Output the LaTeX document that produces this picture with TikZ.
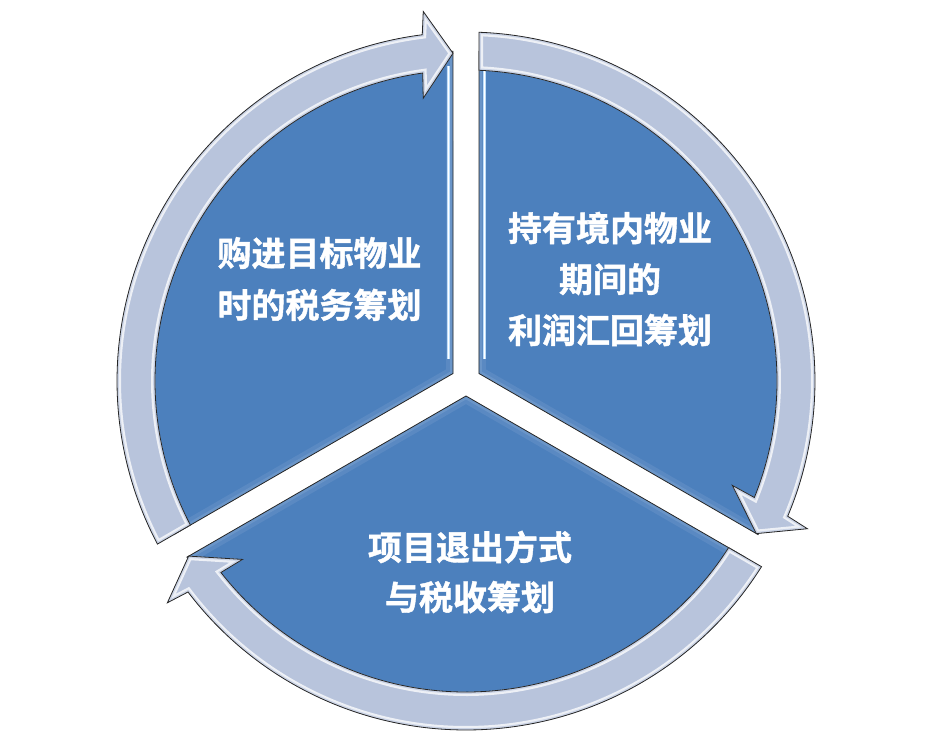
\documentclass[tikz,border=0pt]{standalone}
\usepackage{fontspec}
\newfontfamily\cjk[FakeBold=1.2]{Noto Sans CJK SC Bold}
\definecolor{secblue}{RGB}{76,128,189}
\definecolor{bandgray}{RGB}{184,196,220}
\definecolor{glowblue}{RGB}{190,222,250}
\tikzset{
  outline/.style={draw=black!85, line width=0.8pt, line join=miter},
  lbl/.style={text=white, align=center, inner sep=0pt},
}
\begin{document}
\begin{tikzpicture}[x=1pt,y=1pt]
\useasboundingbox (-466,-371) rectangle (483,381);
\fill[white] (-466,-371) rectangle (483,381);
% blue sectors
\foreach \e in {90,-30,210}{
  \pgfmathsetmacro\s{\e+120}
  \pgfmathsetmacro\m{\e+60}
  \def\secpath{(\m:15) -- (\s-2.26:330) arc[start angle=\s-2.26, end angle=\e+2.26, radius=330] -- cycle}
  \fill[secblue] \secpath;
  \begin{scope}
    \clip \secpath;
    \draw[white, opacity=0.08, line width=14pt] \secpath;
    \draw[white, opacity=0.10, line width=6pt] \secpath;
  \end{scope}
  \draw[outline] \secpath;
}
% light highlights along the vertical gap
\draw[glowblue, line width=3pt] (-17.5,315) -- (-17.5,22);
\draw[white, line width=0.8pt] (-17.5,315) -- (-17.5,22);
\draw[glowblue, line width=3pt] (18.5,315) -- (18.5,22);
\draw[white, line width=0.8pt] (18.5,315) -- (18.5,22);
% circular arrows
\foreach \e in {90,-30,210}{
  \pgfmathsetmacro\s{\e+120}
  \def\arrpath{(\s-2.40:311) -- (\s-2.14:349) arc[start angle=\s-2.14, end angle=\e+7.2, radius=349] -- (\e+6.6:372) -- (\e+2.27:328) -- (\e+8.6:286) -- (\e+8.0:311) arc[start angle=\e+8.0, end angle=\s-2.40, radius=311] -- cycle}
  \fill[bandgray] \arrpath;
  \begin{scope}
    \clip \arrpath;
    \draw[white, opacity=0.75, line width=8pt] \arrpath;
    \draw[bandgray!75!white, line width=3.6pt] \arrpath;
  \end{scope}
  \draw[outline] \arrpath;
}
% labels
\node[lbl, font=\cjk\fontsize{34}{52}\selectfont] (t1) at (-146.5,102) {购进目标物业\\时的税务筹划};
\node[lbl, font=\cjk\fontsize{34}{51}\selectfont] (t2) at (144,102) {持有境内物业\\期间的\\利润汇回筹划};
\node[lbl, font=\cjk\fontsize{34}{50}\selectfont] (t3) at (4,-191) {项目退出方式\\与税收筹划};
\end{tikzpicture}
\end{document}
